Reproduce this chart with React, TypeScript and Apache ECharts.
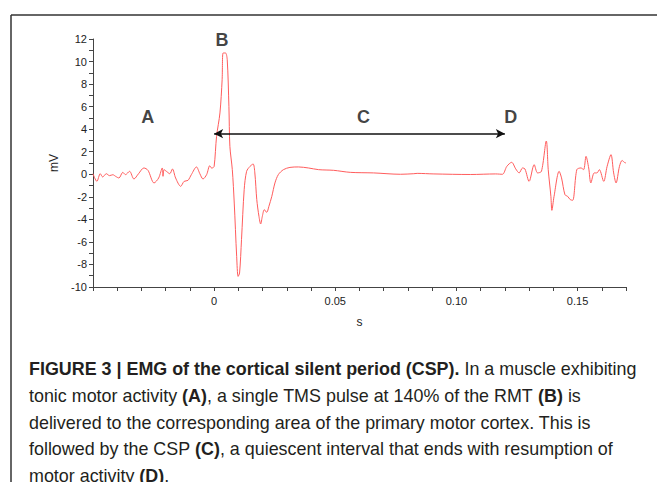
import React, { useEffect, useRef } from "react";
import * as echarts from "echarts";

// EMG trace: time (s) and amplitude (mV)
const timeS = [
  -0.0500, -0.0484, -0.0470, -0.0460, -0.0445, -0.0432, -0.0418, -0.0407, -0.0393, -0.0377,
  -0.0366, -0.0349, -0.0331, -0.0312, -0.0290, -0.0273, -0.0248, -0.0229, -0.0214, -0.0211,
  -0.0207, -0.0197, -0.0183, -0.0172, -0.0159, -0.0138, -0.0124, -0.0108, -0.0094, -0.0073,
  -0.0059, -0.0046, -0.0031, -0.0018, -0.0011, -0.0008, 0.0000, 0.0010, 0.0024, 0.0033,
  0.0037, 0.0047, 0.0054, 0.0061, 0.0065, 0.0075, 0.0083, 0.0093, 0.0099, 0.0105,
  0.0113, 0.0124, 0.0134, 0.0148, 0.0161, 0.0168, 0.0176, 0.0185, 0.0192, 0.0199,
  0.0207, 0.0217, 0.0226, 0.0238, 0.0251, 0.0265, 0.0286, 0.0313, 0.0348, 0.0389,
  0.0431, 0.0493, 0.0562, 0.0658, 0.0769, 0.0824, 0.0838, 0.0907, 0.1059, 0.1162,
  0.1190, 0.1208, 0.1228, 0.1245, 0.1259, 0.1273, 0.1283, 0.1300, 0.1321, 0.1335,
  0.1351, 0.1371, 0.1379, 0.1390, 0.1394, 0.1403, 0.1424, 0.1434, 0.1448, 0.1459,
  0.1470, 0.1480, 0.1497, 0.1514, 0.1525, 0.1535, 0.1546, 0.1555, 0.1569, 0.1580,
  0.1590, 0.1608, 0.1622, 0.1638, 0.1649, 0.1659, 0.1673, 0.1684, 0.1693, 0.1700,
];
const amplitudeMV = [
  0.05, -0.63, 0.05, -0.24, 0.05, -0.12, -0.04, -0.18, -0.33, 0.17,
  -0.03, 0.26, -0.42, 0.05, 0.56, 0.35, -0.77, -0.33, 0.56, -0.18,
  0.41, 0.26, 0.05, 0.47, -0.33, -1.07, -0.63, -0.54, -0.03, 0.65,
  0.05, -0.42, -0.03, 0.76, 0.56, 0.56, 0.70, 3.36, 5.44, 8.39,
  10.76, 10.76, 10.17, 6.02, 2.48, 0.41, -2.55, -7.28, -9.06, -8.76,
  -5.80, -1.37, 0.26, 0.70, 0.91, 0.12, -2.25, -3.73, -4.41, -3.73,
  -3.14, -3.38, -2.85, -1.96, -0.77, -0.03, 0.41, 0.61, 0.65, 0.56,
  0.41, 0.35, 0.17, 0.12, 0.00, 0.05, 0.08, 0.03, -0.02, 0.03,
  0.00, 0.70, 1.06, 0.47, 0.12, 0.56, 0.47, -0.63, 0.85, 0.12,
  0.26, 2.95, 0.41, -1.96, -3.20, -1.96, 0.26, -0.33, -1.81, -1.96,
  -2.25, -2.31, 0.41, 0.56, 0.41, 1.59, 0.56, -0.77, 0.12, 0.12,
  0.41, -0.63, 0.70, 1.74, 0.12, -0.77, 0.70, 1.23, 1.06, 1.00,
];

// Annotation letters and their positions (data coordinates)
const annotationLabels = ["A", "B", "C", "D"];
const annotationTimeS = [-0.0274, 0.0032, 0.0616, 0.1224];
const annotationMV = [5.1, 11.9, 5.1, 5.1];

// CSP arrow (from TMS pulse to resumption of activity)
const arrowStartS = 0;
const arrowEndS = 0.12;
const arrowLevelMV = 3.6;

// Axis ranges
const xMin = -0.05;
const xMax = 0.17;
const yMin = -10;
const yMax = 12;

const captionLines = [
  "{b|FIGURE 3 | EMG of the cortical silent period (CSP).} In a muscle exhibiting",
  "tonic motor activity {b|(A)}, a single TMS pulse at 140% of the RMT {b|(B)} is",
  "delivered to the corresponding area of the primary motor cortex. This is",
  "followed by the CSP {b|(C)}, a quiescent interval that ends with resumption of",
  "motor activity {b|(D)}.",
];

export default function App() {
  const ref = useRef<HTMLDivElement>(null);
  useEffect(() => {
    document.body.style.margin = "0";
    if (!ref.current) return;
    const chart = echarts.init(ref.current, null, { renderer: "svg" });
    const trace = timeS.map((t, i) => [t, amplitudeMV[i]]);
    const annotations = annotationLabels.map((l, i) => ({
      value: [annotationTimeS[i], annotationMV[i]],
      name: l,
    }));
    const axisFont = { fontFamily: "Liberation Sans, Arial, sans-serif", fontSize: 11, color: "#222" };
    const capFont = "Liberation Sans, Arial, sans-serif";
    chart.setOption({
      animation: false,
      backgroundColor: "#fff",
      grid: { left: 93, right: 31, top: 39, bottom: 195, containLabel: false },
      xAxis: {
        type: "value",
        min: xMin,
        max: xMax,
        interval: 0.01,
        name: "s",
        nameLocation: "middle",
        nameGap: 29,
        nameTextStyle: { ...axisFont, fontSize: 12 },
        axisLine: { onZero: false, lineStyle: { color: "#444", width: 1 } },
        axisTick: { show: true, length: 4, lineStyle: { color: "#444" } },
        axisLabel: {
          ...axisFont,
          margin: 8,
          formatter: (v: number) => {
            const k = Math.round(v * 100);
            if (k === 0) return "0";
            if (k > 0 && k % 5 === 0) return (k / 100).toFixed(2);
            return "";
          },
        },
        splitLine: { show: false },
      },
      yAxis: {
        type: "value",
        min: yMin,
        max: yMax,
        interval: 2,
        name: "mV",
        nameLocation: "middle",
        nameGap: 26,
        nameTextStyle: { ...axisFont, fontSize: 12 },
        axisLine: { show: true, onZero: false, lineStyle: { color: "#444", width: 1 } },
        axisTick: { show: true, length: 4, lineStyle: { color: "#444" } },
        minorTick: { show: true, splitNumber: 2, length: 4, lineStyle: { color: "#444" } },
        axisLabel: { ...axisFont, margin: 6 },
        splitLine: { show: false },
      },
      series: [
        {
          type: "line",
          data: trace,
          showSymbol: false,
          smooth: 0.3,
          lineStyle: { color: "#ff5c5c", width: 1 },
          markLine: {
            silent: true,
            symbol: ["arrow", "arrow"],
            symbolSize: [7, 9],
            label: { show: false },
            lineStyle: { color: "#111", width: 1.5, type: "solid" },
            data: [[{ coord: [arrowStartS, arrowLevelMV] }, { coord: [arrowEndS, arrowLevelMV] }]],
          },
        },
        {
          type: "scatter",
          data: annotations,
          symbolSize: 0,
          label: {
            show: true,
            position: "inside",
            formatter: (p: any) => p.name,
            fontFamily: "Liberation Sans, Arial, sans-serif",
            fontWeight: "bold",
            fontSize: 18,
            color: "#111",
          },
        },
      ],
      graphic: [
        { type: "line", shape: { x1: 11, y1: 15, x2: 657, y2: 15 }, style: { stroke: "#333", lineWidth: 1.5 } },
        { type: "line", shape: { x1: 11, y1: 15, x2: 11, y2: 482 }, style: { stroke: "#333", lineWidth: 1.5 } },
        {
          type: "text",
          x: 29,
          y: 356,
          style: {
            text: captionLines.join("\n"),
            fontFamily: capFont,
            fontSize: 17.9,
            lineHeight: 26.6,
            fill: "#231f20",
            rich: {
              b: { fontFamily: capFont, fontSize: 17.9, fontWeight: "bold", lineHeight: 26.6, fill: "#231f20" },
            },
          },
        },
      ],
    });
    return () => chart.dispose();
  }, []);
  return <div ref={ref} style={{ width: 657, height: 482 }} />;
}
